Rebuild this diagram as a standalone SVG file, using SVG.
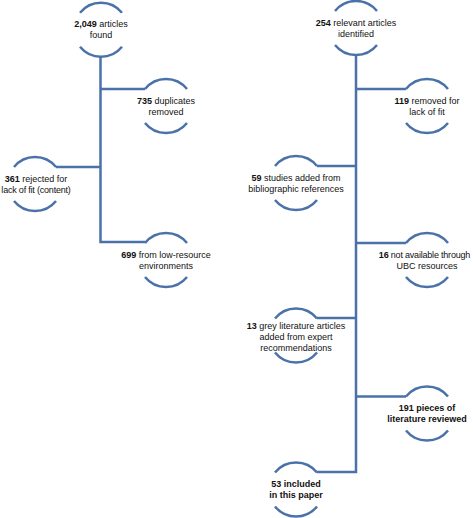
<svg xmlns="http://www.w3.org/2000/svg" width="473" height="518" viewBox="0 0 473 518">
<style>
.bg{fill:#ffffff}
.arc{fill:none;stroke:#4a72a8;stroke-width:2.5}
.con{fill:none;stroke:#4a72a8;stroke-width:2.5;stroke-linejoin:miter}
text{font-family:"Liberation Sans",Arial,sans-serif;font-size:9px;fill:#111111;text-anchor:middle}
.b{font-weight:bold}
.t{letter-spacing:-0.2px}
</style>
<rect class="bg" x="0" y="0" width="473" height="518"/>
<g id="connectors">
<path class="con" d="M100.5 57 V242 H145"/>
<path class="con" d="M100.5 89 H145"/>
<path class="con" d="M100.5 167 H56"/>
<path class="con" d="M356 55 V472 H317"/>
<path class="con" d="M356 89 H406"/>
<path class="con" d="M356 166 H317"/>
<path class="con" d="M356 243 H406"/>
<path class="con" d="M356 318 H317"/>
<path class="con" d="M356 396.5 H406"/>
</g>
<g id="n1">
<path class="arc" d="M80 12.7 A27 27 0 0 1 122 12.7"/>
<path class="arc" d="M80 46.7 A27 27 0 0 0 122 46.7"/>
<text x="101" y="27.4"><tspan class="b">2,049</tspan> articles</text>
<text x="101" y="38.4">found</text>
</g>
<g id="n2">
<path class="arc" d="M145 89 A27 27 0 0 1 187 89"/>
<path class="arc" d="M145 123 A27 27 0 0 0 187 123"/>
<text x="166" y="103.7"><tspan class="b">735</tspan> duplicates</text>
<text x="166" y="114.7">removed</text>
</g>
<g id="n3">
<path class="arc" d="M14 167 A27 27 0 0 1 56 167"/>
<path class="arc" d="M14 201 A27 27 0 0 0 56 201"/>
<text x="36" y="181.7"><tspan class="b">361</tspan> rejected for</text>
<text class="t" x="36" y="192.7">lack of fit (content)</text>
</g>
<g id="n4">
<path class="arc" d="M145 243 A27 27 0 0 1 187 243"/>
<path class="arc" d="M145 277 A27 27 0 0 0 187 277"/>
<text x="166" y="257.7"><tspan class="b">699</tspan> from low-resource</text>
<text x="166" y="268.7">environments</text>
</g>
<g id="r1">
<path class="arc" d="M335 11 A27 27 0 0 1 377 11"/>
<path class="arc" d="M335 45 A27 27 0 0 0 377 45"/>
<text x="356" y="25.7"><tspan class="b">254</tspan> relevant articles</text>
<text x="356" y="36.7">identified</text>
</g>
<g id="r2">
<path class="arc" d="M406 89 A27 27 0 0 1 448 89"/>
<path class="arc" d="M406 123 A27 27 0 0 0 448 123"/>
<text x="427" y="103.7"><tspan class="b">119</tspan> removed for</text>
<text x="427" y="114.7">lack of fit</text>
</g>
<g id="r3">
<path class="arc" d="M275 166 A27 27 0 0 1 317 166"/>
<path class="arc" d="M275 200 A27 27 0 0 0 317 200"/>
<text x="296" y="180.7"><tspan class="b">59</tspan> studies added from</text>
<text x="296" y="191.7">bibliographic references</text>
</g>
<g id="r4">
<path class="arc" d="M406 243 A27 27 0 0 1 448 243"/>
<path class="arc" d="M406 277 A27 27 0 0 0 448 277"/>
<text class="t" x="424.5" y="257.7"><tspan class="b">16</tspan> not available through</text>
<text x="427" y="268.7">UBC resources</text>
</g>
<g id="r5">
<path class="arc" d="M275 318.5 A27 27 0 0 1 317 318.5"/>
<path class="arc" d="M275 352.5 A27 27 0 0 0 317 352.5"/>
<text x="296" y="328.5"><tspan class="b">13</tspan> grey literature articles</text>
<text x="296" y="339.5">added from expert</text>
<text x="296" y="350.5">recommendations</text>
</g>
<g id="r6">
<path class="arc" d="M406 396.5 A27 27 0 0 1 448 396.5"/>
<path class="arc" d="M406 430.5 A27 27 0 0 0 448 430.5"/>
<text class="b" x="427" y="410.7">191 pieces of</text>
<text class="b" x="427" y="421.7">literature reviewed</text>
</g>
<g id="r7">
<path class="arc" d="M275 472.5 A27 27 0 0 1 317 472.5"/>
<path class="arc" d="M275 506.5 A27 27 0 0 0 317 506.5"/>
<text class="b" x="296" y="486.7">53 included</text>
<text class="b" x="296" y="497.7">in this paper</text>
</g>
</svg>
